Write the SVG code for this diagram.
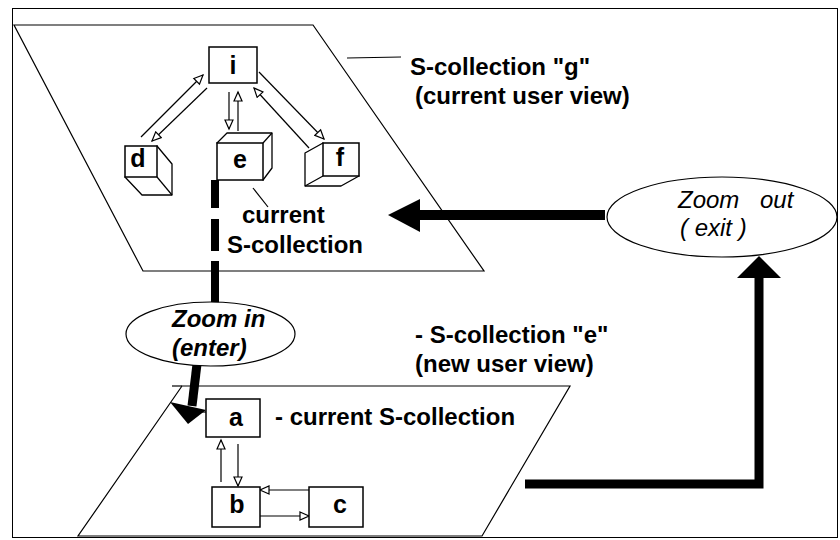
<svg xmlns="http://www.w3.org/2000/svg" width="840" height="540" viewBox="0 0 840 540">
<defs>
<marker id="oa" markerUnits="userSpaceOnUse" markerWidth="12" markerHeight="10" refX="9" refY="4" orient="auto" viewBox="-1 -1 12 10">
<path d="M0,0 L9,4 L0,8 z" fill="#fff" stroke="#000" stroke-width="1.2"/>
</marker>
</defs>
<style>
.ln{fill:none;stroke:#000;stroke-width:1.2}
.box{fill:#fff;stroke:#000;stroke-width:1.5}
.cube{fill:#fff;stroke:#000;stroke-width:1.3;stroke-linejoin:round}
.lbl{font-family:"Liberation Sans",Arial,sans-serif;font-weight:bold;font-size:24px;fill:#000}
.nl{font-family:"Liberation Sans",Arial,sans-serif;font-weight:bold;font-size:25px;fill:#000;text-anchor:middle}
.zo{font-family:"Liberation Sans",Arial,sans-serif;font-style:italic;font-size:24px;fill:#000}
.zi{font-family:"Liberation Sans",Arial,sans-serif;font-style:italic;font-weight:bold;font-size:24px;fill:#000}
.ell{fill:#fff;stroke:#000;stroke-width:1.2}
.thin{fill:none;stroke:#000;stroke-width:1.2;marker-end:url(#oa)}
</style>
<rect x="0" y="0" width="840" height="540" fill="#fff"/>
<rect x="12.5" y="8.5" width="825" height="529" fill="none" stroke="#000" stroke-width="1"/>

<g id="plane-g">
<polygon points="14,25 313,25 484,271 143,271" class="ln"/>
</g>
<g id="plane-e">
<polygon points="182,386 570,386 482,536 78,536" class="ln"/>
<line x1="172" y1="386" x2="182" y2="386" class="ln"/>
</g>

<g id="connectors">
<line x1="141" y1="137" x2="203" y2="75" class="thin"/>
<line x1="207" y1="88" x2="152" y2="141" class="thin"/>
<line x1="229" y1="92" x2="229" y2="129" class="thin"/>
<line x1="238" y1="131" x2="238" y2="92" class="thin"/>
<line x1="259" y1="72" x2="324" y2="139" class="thin"/>
<line x1="309" y1="148" x2="254" y2="88" class="thin"/>
<line x1="221" y1="482" x2="221" y2="440" class="thin"/>
<line x1="238" y1="444" x2="238" y2="486" class="thin"/>
<line x1="311" y1="490" x2="260" y2="490" class="thin"/>
<line x1="257" y1="516" x2="309" y2="516" class="thin"/>
<line x1="347" y1="58" x2="401" y2="57" class="ln"/>
<line x1="253" y1="188" x2="268" y2="207" class="ln"/>
<rect x="211" y="180" width="8" height="28" fill="#000"/>
<rect x="211" y="219" width="8" height="32" fill="#000"/>
<rect x="211" y="261" width="8" height="42" fill="#000"/>
<line x1="197" y1="364" x2="192" y2="406" stroke="#000" stroke-width="9"/>
<polygon points="170,402 206,410 188,424" fill="#000"/>
<line x1="200" y1="412" x2="207" y2="412" class="ln"/>
<rect x="417" y="210" width="188" height="10" fill="#000"/>
<polygon points="388,215 420,199 420,232" fill="#000"/>
<polyline points="525,484 759,484 759,275" fill="none" stroke="#000" stroke-width="9"/>
<polygon points="759,256 781,278 737,278" fill="#000"/>
</g>

<g id="node-i">
<rect x="209" y="47" width="48" height="36" class="box"/>
<text x="233" y="74" class="nl">i</text>
</g>
<g id="node-d">
<polygon points="157,146 172,164 172,195 142,195 125,177" class="cube"/>
<line x1="157" y1="177" x2="172" y2="195" class="ln"/>
<rect x="125" y="146" width="32" height="31" class="box"/>
<text x="138" y="167" class="nl">d</text>
</g>
<g id="node-e">
<polygon points="217,143 227,133 272,133 272,168 263,180" class="cube"/>
<line x1="263" y1="143" x2="272" y2="133" class="ln"/>
<rect x="217" y="143" width="46" height="37" class="box"/>
<text x="240" y="168" class="nl">e</text>
</g>
<g id="node-f">
<polygon points="323,143 305,153 305,186 341,186 359,176" class="cube"/>
<line x1="323" y1="176" x2="305" y2="186" class="ln"/>
<rect x="323" y="143" width="36" height="33" class="box"/>
<text x="340" y="166" class="nl">f</text>
</g>
<g id="node-a">
<rect x="206" y="399" width="54" height="38" class="box"/>
<text x="236" y="426" class="nl">a</text>
</g>
<g id="node-b">
<rect x="212" y="487" width="48" height="40" class="box"/>
<text x="237" y="513" class="nl">b</text>
</g>
<g id="node-c">
<rect x="309" y="487" width="54" height="40" class="box"/>
<text x="340" y="513" class="nl">c</text>
</g>

<g id="zoom-in">
<ellipse cx="210.5" cy="334" rx="84.5" ry="32" class="ell"/>
<text x="172" y="327" class="zi">Zoom in</text>
<text x="172" y="356" class="zi">(enter)</text>
</g>
<g id="zoom-out">
<ellipse cx="722" cy="217" rx="115" ry="40" class="ell"/>
<text x="678" y="208" class="zo"><tspan>Zoom</tspan><tspan x="760">out</tspan></text>
<text x="680" y="236" class="zo">( exit )</text>
</g>

<g id="labels">
<text x="410" y="75" class="lbl">S-collection "g"</text>
<text x="415" y="104" class="lbl">(current user view)</text>
<text x="242" y="223" class="lbl">current</text>
<text x="227" y="253" class="lbl">S-collection</text>
<text x="415" y="343" class="lbl">- S-collection "e"</text>
<text x="415" y="372" class="lbl">(new  user view)</text>
<text x="275" y="425" class="lbl">- current S-collection</text>
</g>
</svg>
